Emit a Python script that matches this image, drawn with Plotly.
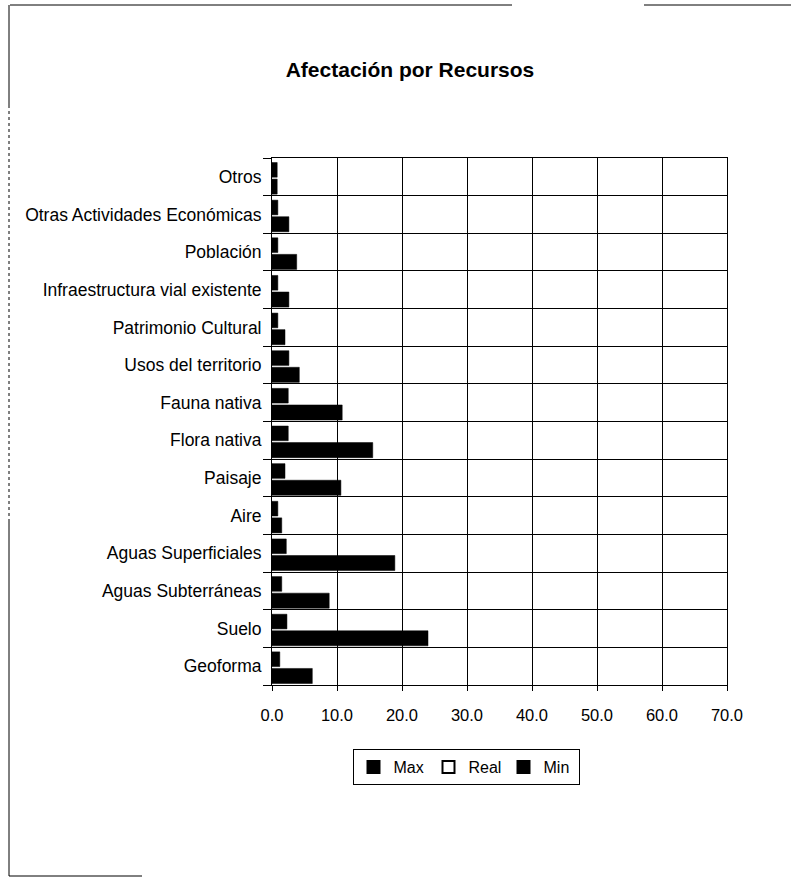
import plotly.graph_objects as go

categories = ["Geoforma", "Suelo", "Aguas Subterráneas", "Aguas Superficiales", "Aire",
              "Paisaje", "Flora nativa", "Fauna nativa", "Usos del territorio",
              "Patrimonio Cultural", "Infraestructura vial existente", "Población",
              "Otras Actividades Económicas", "Otros"]
max_vals = [6.2, 24.0, 8.8, 18.9, 1.5, 10.6, 15.5, 10.8, 4.2, 2.0, 2.6, 3.8, 2.6, 0.8]
real_vals = [None] * len(categories)
min_vals = [1.2, 2.3, 1.5, 2.2, 0.9, 2.0, 2.5, 2.5, 2.6, 0.9, 0.9, 0.9, 0.9, 0.8]
x_ticks = [0, 10, 20, 30, 40, 50, 60, 70]

FONT = "Liberation Sans, Arial, sans-serif"

# plot area in pixels
L, R, T, B = 272, 727, 158, 685
W, H = 791, 880


def px(x):
    return (x - L) / (R - L)


def py(y):
    return (B - y) / (B - T)


fig = go.Figure()
fig.add_trace(go.Bar(name="Max", y=categories, x=max_vals, orientation="h",
                     marker=dict(color="black", line=dict(color="black", width=0.5)),
                     offset=-0.46, width=0.40))
fig.add_trace(go.Bar(name="Real", y=categories, x=real_vals, orientation="h",
                     marker=dict(color="white", line=dict(color="black", width=1)),
                     offset=-0.06, width=0.04))
fig.add_trace(go.Bar(name="Min", y=categories, x=min_vals, orientation="h",
                     marker=dict(color="black", line=dict(color="black", width=0.5)),
                     offset=-0.01, width=0.39))

shapes = []
for (x0, y0, x1, y1, dash) in [
    (10, 5, 512, 5, "solid"), (644, 5, 791, 5, "solid"),
    (9, 5, 9, 105, "solid"), (9, 105, 9, 520, "dot"), (9, 520, 9, 876, "solid"),
    (9, 876, 142, 876, "solid"),
]:
    shapes.append(dict(type="line", xref="paper", yref="paper",
                       x0=px(x0), y0=py(y0), x1=px(x1), y1=py(y1),
                       line=dict(color="black", width=1, dash=dash)))

fig.update_layout(
    width=W, height=H,
    margin=dict(l=L, r=W - R, t=T, b=H - B),
    paper_bgcolor="white", plot_bgcolor="white",
    barmode="overlay",
    title=dict(text="<b>Afectación por Recursos</b>", x=410 / W, xref="container",
               xanchor="center", y=1 - 70 / H, yanchor="middle",
               font=dict(family=FONT, size=21, color="black")),
    font=dict(family=FONT, size=16, color="black"),
    xaxis=dict(range=[0, 70], tickvals=x_ticks, tickformat=".1f",
               showgrid=True, gridcolor="black", gridwidth=1,
               showline=True, linecolor="black", linewidth=1, mirror=True,
               ticks="outside", ticklen=5, tickcolor="black", ticklabelstandoff=10,
               tickfont=dict(family=FONT, size=16.5, color="black"), zeroline=False),
    yaxis=dict(type="category", categoryorder="array", categoryarray=categories,
               tickson="boundaries", showgrid=True, gridcolor="black", gridwidth=1,
               showline=True, linecolor="black", linewidth=1, mirror=True,
               ticks="outside", ticklen=8, tickcolor="black", ticklabelstandoff=6,
               tickfont=dict(family=FONT, size=17.5, color="black")),
    legend=dict(orientation="h", x=px(466), y=py(767), xanchor="center", yanchor="middle",
                bordercolor="black", borderwidth=1, bgcolor="white",
                font=dict(family=FONT, size=16, color="black"),
                itemsizing="constant", itemwidth=30, traceorder="normal",
                entrywidth=30, entrywidthmode="pixels"),
    shapes=shapes,
    showlegend=True,
)

fig.write_html("out.html")
